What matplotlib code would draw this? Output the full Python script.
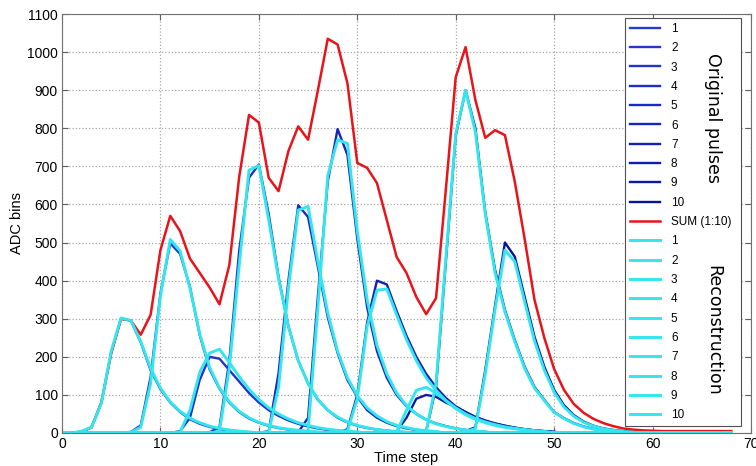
import numpy as np
import matplotlib
matplotlib.use("Agg")
import matplotlib.pyplot as plt

# time axis (samples)
n_steps = 69
t = np.arange(n_steps)

orig_start = [2, 7, 12, 15, 21, 24, 29, 34, 37, 41]
orig_vals = [
    [3, 15, 80, 210, 300, 295, 238, 165, 115, 80, 55, 36, 24, 16, 10, 7, 4, 2],
    [3, 20, 147, 367, 498, 470, 384, 256, 167, 116, 80, 55, 38, 27, 19, 13, 9, 6, 4, 2],
    [5, 40, 140, 200, 195, 165, 135, 105, 80, 60, 45, 33, 24, 17, 12, 8, 5, 3],
    [2, 15, 190, 478, 670, 705, 575, 410, 280, 190, 130, 87, 60, 40, 28, 19, 13, 9, 6, 4, 2],
    [5, 157, 400, 598, 567, 436, 304, 210, 139, 95, 60, 40, 27, 18, 12, 8, 5, 3],
    [2, 40, 360, 660, 798, 730, 510, 330, 215, 145, 100, 70, 50, 35, 25, 18, 12, 8, 5, 3],
    [10, 100, 290, 400, 390, 320, 255, 200, 155, 120, 92, 70, 55, 42, 32, 25, 19, 14, 10, 7, 5, 3],
    [5, 40, 90, 100, 95, 80, 68, 55, 42, 33, 25, 19, 14, 10, 7, 5, 3],
    [5, 120, 450, 780, 900, 800, 580, 428, 323, 244, 174, 121, 87, 55, 39, 26, 17, 11, 7, 4],
    [5, 15, 165, 335, 500, 463, 358, 253, 174, 113, 73, 47, 30, 19, 12, 8, 5, 3],
]

# reconstructed pulses
rec_start = [2, 7, 12, 16, 21, 25, 29, 34, 37, 41]
rec_vals = [
    [5, 15, 78, 215, 302, 295, 240, 170, 118, 82, 57, 39, 27, 18, 12, 8, 5, 3],
    [2, 15, 130, 360, 508, 478, 380, 260, 172, 118, 82, 57, 40, 28, 20, 14, 10, 7, 5, 3],
    [3, 60, 160, 210, 220, 185, 148, 115, 88, 66, 50, 37, 27, 20, 14, 10, 7, 5, 3],
    [5, 170, 440, 690, 702, 560, 405, 280, 190, 130, 88, 60, 42, 29, 20, 14, 9, 6, 4, 2],
    [3, 120, 380, 585, 595, 450, 315, 215, 145, 98, 66, 45, 30, 20, 14, 9, 6, 4],
    [5, 330, 675, 770, 760, 530, 350, 230, 155, 105, 72, 50, 35, 24, 17, 12, 8, 5, 3],
    [5, 90, 280, 375, 378, 310, 245, 190, 145, 112, 85, 64, 48, 36, 27, 20, 15, 11, 8, 5, 3],
    [3, 60, 112, 120, 105, 85, 66, 50, 38, 29, 22, 16, 12, 9, 6, 4],
    [5, 130, 460, 785, 900, 790, 575, 420, 318, 240, 170, 118, 85, 54, 38, 25, 16, 10, 6, 4],
    [3, 12, 155, 325, 480, 450, 345, 242, 165, 107, 68, 44, 28, 18, 11, 7, 4, 2],
]

# sum of original pulses
sum_vals = [0, 0, 3, 15, 80, 210, 300, 295, 258, 310, 480, 570, 530, 458, 420,
            382, 338, 441, 672, 835, 815, 670, 635, 740, 805, 770, 900, 1035, 1020,
            918, 709, 696, 656, 559, 462, 420, 357, 312, 354, 640, 934, 1013, 874,
            775, 795, 782, 660, 510, 350, 250, 168, 113, 76, 53, 37, 26, 18, 12, 9,
            7, 6, 5, 5, 5, 5, 5, 5, 5, 5]

labels = [str(i) for i in range(1, 11)]

blue_colors = ['#2a3ad8', '#2636d2', '#2232cc', '#1e2ec6', '#1a2ac0',
               '#1626b8', '#1222b0', '#0e1ea8', '#0a1aa0', '#061698']
cyan_color = '#33e6ee'
red_color = '#e8141a'


def full_series(start, vals):
    y = np.zeros(n_steps)
    y[start:start + len(vals)] = vals
    return y


plt.rcParams['font.family'] = ['Liberation Sans', 'DejaVu Sans']

fig = plt.figure(figsize=(7.56, 4.66), dpi=100)
ax = fig.add_axes([62 / 756, 33 / 466, 689 / 756, 419 / 466])

handles = []
for i in range(10):
    h, = ax.plot(t, full_series(orig_start[i], orig_vals[i]), color=blue_colors[i],
                 lw=1.7, label=labels[i])
    handles.append(h)
h, = ax.plot(t, sum_vals, color=red_color, lw=1.8, label='SUM (1:10)')
handles.append(h)
for i in range(10):
    h, = ax.plot(t, full_series(rec_start[i], rec_vals[i]), color=cyan_color,
                 lw=2.1, label=labels[i])
    handles.append(h)

ax.set_xlim(0, 70)
ax.set_ylim(0, 1100)
ax.set_xticks(np.arange(0, 71, 10))
ax.set_yticks(np.arange(0, 1101, 100))
ax.tick_params(direction='in', top=True, right=True, labelsize=10, length=4,
               color='#606060', pad=3)
ax.grid(True, linestyle=':', color='#a8a8a8', linewidth=0.9)
for sp in ax.spines.values():
    sp.set_color('#707070')
ax.set_xlabel('Time step', fontsize=10.5, labelpad=0)
ax.set_ylabel('ADC bins', fontsize=10.5, labelpad=2)

leg = ax.legend(handles=handles, loc='upper left',
                bbox_to_anchor=(0.817, 0.0, 0.168, 0.990), mode='expand',
                borderaxespad=0, fontsize=8.5, handlelength=2.6,
                handletextpad=0.9, labelspacing=0.62, borderpad=0.4,
                fancybox=False, framealpha=1, edgecolor='#505050')
leg.get_frame().set_linewidth(0.8)

fig.text(713 / 756, 1 - 118 / 466, 'Original pulses', rotation=-90,
         ha='center', va='center', fontsize=12.5, family='DejaVu Sans', zorder=10)
fig.text(713 / 756, 1 - 330 / 466, 'Reconstruction', rotation=-90,
         ha='center', va='center', fontsize=12.5, family='DejaVu Sans', zorder=10)

fig.savefig('out.png', dpi=100)
